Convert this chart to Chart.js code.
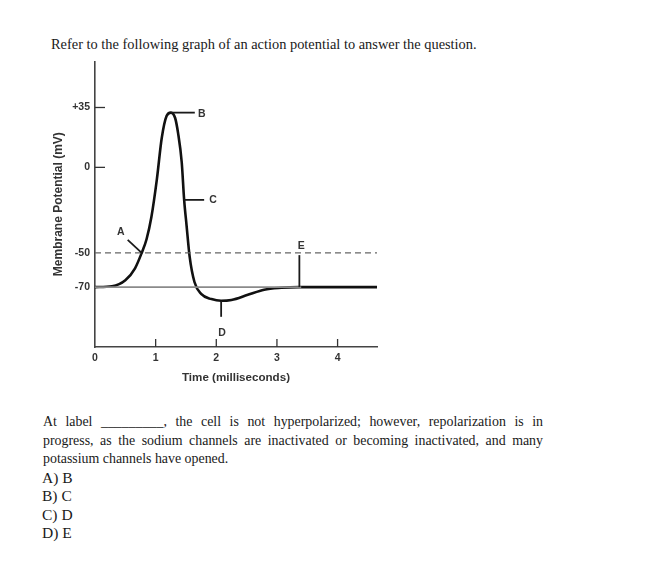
<!DOCTYPE html>
<html>
<head>
<meta charset="utf-8">
<script src="https://cdn.jsdelivr.net/npm/chart.js@4.4.1/dist/chart.umd.min.js"></script>
<style>
  body { margin: 0; background: #fff; }
  #page { position: relative; width: 669px; height: 587px; overflow: hidden; color: #1a1a1a; font-family: "Liberation Serif", "Times New Roman", serif; }
  #header { position: absolute; left: 51px; top: 36px; font-size: 14.4px; line-height: 16px; white-space: nowrap; }
  #chart-wrap { position: absolute; left: 20px; top: 50px; width: 370px; height: 345px; }
  #question { position: absolute; left: 43px; top: 413px; width: 500px; font-size: 13.9px; line-height: 18.5px; }
  #question div { white-space: nowrap; }
  #question .just { text-align: justify; text-align-last: justify; white-space: normal; }
  #answers { position: absolute; left: 42px; top: 469px; font-size: 15.5px; line-height: 18.4px; }
</style>
</head>
<body>
<div id="page">
  <div id="header">Refer to the following graph of an action potential to answer the question.</div>
  <div id="chart-wrap"><canvas id="ap-chart"></canvas></div>
  <div id="question">
    <div class="just">At label _________, the cell is not hyperpolarized; however, repolarization is in</div>
    <div class="just">progress, as the sodium channels are inactivated or becoming inactivated, and many</div>
    <div>potassium channels have opened.</div>
  </div>
  <div id="answers">
    <div>A) B</div>
    <div>B) C</div>
    <div>C) D</div>
    <div>D) E</div>
  </div>
</div>
<script>
// Action potential trace (time in ms, potential in mV)
const timeMs = [0, 0.28, 0.5, 0.66, 0.77, 0.85, 0.93, 1.02, 1.10, 1.18, 1.25, 1.32, 1.37, 1.43, 1.47, 1.51, 1.56, 1.64, 1.75, 1.92, 2.08, 2.25, 2.52, 2.79, 3.07, 3.37, 3.89, 4.65];
const potentialMv = [-70, -69.5, -66, -59, -50, -42, -29, -7, 17, 30, 32, 29, 20, 3, -19, -34, -52, -67, -74, -77, -78, -77.5, -74.5, -71.5, -70.4, -70, -70, -70];

// Reference lines
const thresholdMv = -50;
const thresholdSpan = [0, 4.65];
const restingMv = -70;
const restingSpan = [0, 3.4];

// Axis ticks
const xTicks = [0, 1, 2, 3, 4];
const yTicks = [35, 0, -50, -70];
const yTickLabels = ['+35', '0', '-50', '-70'];

// Lettered labels on the trace
const labelNames = ['A', 'B', 'C', 'D', 'E'];
const labelTimes = [0.77, 1.25, 1.47, 2.08, 3.37];
const labelValues = [-50, 32, -19, -78, -70];

const INK = '#1a1a1a';
const SANS = '"Liberation Sans", Arial, sans-serif';

// Leader line direction for each letter
const leaderStyle = {
    A: { dx: -14, dy: -13, tx: -21, ty: -21 },
    B: { dx: 24, dy: 0, tx: 31, ty: 1 },
    C: { dx: 20, dy: 0, tx: 29, ty: 0 },
    D: { dx: 0, dy: 16, tx: 1, ty: 32 },
    E: { dx: 0, dy: -32, tx: 2, ty: -41 }
};

// Short tick marks pointing into the plot
const inwardTicks = {
    id: 'inwardTicks',
    afterDatasetsDraw(chart) {
        const { ctx, chartArea, scales } = chart;
        ctx.save();
        ctx.strokeStyle = '#333';
        ctx.lineWidth = 1.3;
        yTicks.forEach(v => {
            if (v === thresholdMv || v === restingMv) return;
            const y = scales.y.getPixelForValue(v);
            ctx.beginPath();
            ctx.moveTo(chartArea.left, y);
            ctx.lineTo(chartArea.left + 10, y);
            ctx.stroke();
        });
        xTicks.forEach(t => {
            if (t === 0) return;
            const x = scales.x.getPixelForValue(t);
            ctx.beginPath();
            ctx.moveTo(x, chartArea.bottom);
            ctx.lineTo(x, chartArea.bottom - 8);
            ctx.stroke();
        });
        ctx.restore();
    }
};

// Letters A-E with their leader lines
const letterLabels = {
    id: 'letterLabels',
    afterDatasetsDraw(chart) {
        const { ctx, scales } = chart;
        ctx.save();
        ctx.strokeStyle = INK;
        ctx.fillStyle = '#333';
        ctx.lineWidth = 1.8;
        ctx.font = 'bold 10.5px ' + SANS;
        ctx.textAlign = 'center';
        ctx.textBaseline = 'middle';
        labelNames.forEach((name, i) => {
            const x = scales.x.getPixelForValue(labelTimes[i]);
            const y = scales.y.getPixelForValue(labelValues[i]);
            const s = leaderStyle[name];
            ctx.beginPath();
            ctx.moveTo(x, y);
            ctx.lineTo(x + s.dx, y + s.dy);
            ctx.stroke();
            ctx.fillText(name, x + s.tx, y + s.ty);
        });
        ctx.restore();
    }
};

function createActionPotentialChart() {
    const ctx = document.getElementById('ap-chart').getContext('2d');
    const tickFont = { family: SANS, size: 10.5, weight: 'bold' };
    new Chart(ctx, {
        type: 'line',
        data: {
            datasets: [
                {
                    label: 'Resting',
                    data: restingSpan.map(t => ({ x: t, y: restingMv })),
                    borderColor: '#8a8a8a',
                    borderWidth: 1.6,
                    pointRadius: 0
                },
                {
                    label: 'Threshold',
                    data: thresholdSpan.map(t => ({ x: t, y: thresholdMv })),
                    borderColor: '#666',
                    borderWidth: 1.3,
                    borderDash: [6, 4],
                    pointRadius: 0
                },
                {
                    label: 'Membrane potential',
                    data: timeMs.map((t, i) => ({ x: t, y: potentialMv[i] })),
                    borderColor: '#111',
                    borderWidth: 2.6,
                    pointRadius: 0,
                    cubicInterpolationMode: 'monotone'
                }
            ]
        },
        options: {
            responsive: true,
            maintainAspectRatio: false,
            animation: false,
            layout: { padding: { top: 5, right: 13, left: 0, bottom: 0 } },
            plugins: {
                legend: { display: false },
                tooltip: { enabled: false }
            },
            scales: {
                x: {
                    type: 'linear',
                    min: 0,
                    max: 4.65,
                    afterBuildTicks: scale => { scale.ticks = xTicks.map(v => ({ value: v })); },
                    afterFit: scale => { scale.height = 48; },
                    grid: { display: false, drawTicks: false },
                    border: { display: true, color: '#444', width: 1.6 },
                    ticks: { color: '#333', font: tickFont, padding: 5, maxRotation: 0 },
                    title: {
                        display: true,
                        text: 'Time (milliseconds)',
                        color: '#333',
                        font: { family: SANS, size: 11.6, weight: 'bold' },
                        padding: { top: 0, bottom: 10 }
                    }
                },
                y: {
                    type: 'linear',
                    min: -105,
                    max: 62,
                    afterBuildTicks: scale => { scale.ticks = yTicks.map(v => ({ value: v })); },
                    afterFit: scale => { scale.width = 75; },
                    grid: { display: false, drawTicks: false },
                    border: { display: true, color: '#444', width: 1.6 },
                    ticks: {
                        color: '#333',
                        font: tickFont,
                        padding: 5,
                        callback: value => yTickLabels[yTicks.indexOf(value)]
                    },
                    title: {
                        display: true,
                        text: 'Membrane Potential (mV)',
                        color: '#333',
                        font: { family: SANS, size: 12, weight: 'bold' },
                        padding: { top: 31, bottom: 0 }
                    }
                }
            }
        },
        plugins: [inwardTicks, letterLabels]
    });
}

document.addEventListener('DOMContentLoaded', createActionPotentialChart);
</script>
</body>
</html>
